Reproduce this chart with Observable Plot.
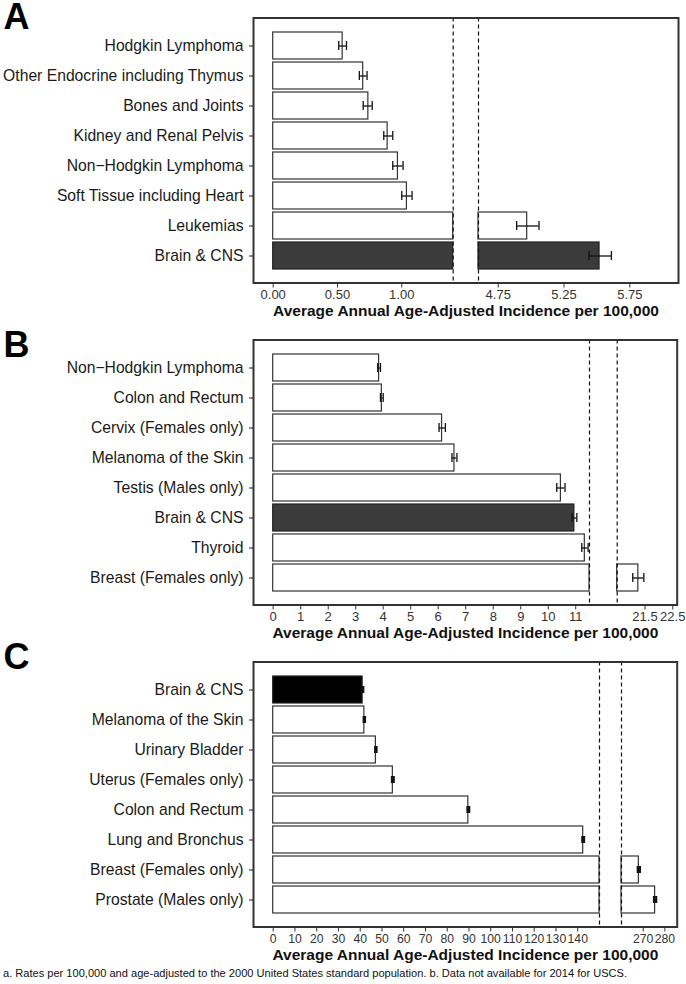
<!DOCTYPE html>
<html>
<head>
<meta charset="utf-8">
<script src="https://cdn.jsdelivr.net/npm/d3@7"></script>
<script src="https://cdn.jsdelivr.net/npm/@observablehq/plot@0.6"></script>
<style>
  html, body { margin: 0; padding: 0; background: #fff; overflow: hidden; }
  #chart svg { display: block; }
</style>
</head>
<body>
<div id="chart"></div>
<script>
// ---------- Panel A ----------
const catsA = ["Hodgkin Lymphoma", "Other Endocrine including Thymus", "Bones and Joints", "Kidney and Renal Pelvis", "Non\u2212Hodgkin Lymphoma", "Soft Tissue including Heart", "Leukemias", "Brain & CNS"];
const valuesA = [0.54, 0.70, 0.74, 0.89, 0.97, 1.04, 4.97, 5.52];
const lowA    = [0.51, 0.67, 0.70, 0.86, 0.93, 1.00, 4.89, 5.44];
const highA   = [0.57, 0.73, 0.77, 0.93, 1.01, 1.08, 5.06, 5.61];
const ticksA  = [0, 0.5, 1.0, 4.75, 5.25, 5.75];
const breakA  = [1.4, 4.6];
const maxA    = 6.12;

// ---------- Panel B ----------
const catsB = ["Non\u2212Hodgkin Lymphoma", "Colon and Rectum", "Cervix (Females only)", "Melanoma of the Skin", "Testis (Males only)", "Brain & CNS", "Thyroid", "Breast (Females only)"];
const valuesB = [3.85, 3.95, 6.14, 6.59, 10.46, 10.95, 11.33, 21.26];
const lowB    = [3.80, 3.90, 6.03, 6.50, 10.31, 10.87, 11.22, 21.06];
const highB   = [3.90, 4.00, 6.26, 6.68, 10.61, 11.04, 11.45, 21.46];
const ticksB  = [0, 1, 2, 3, 4, 5, 6, 7, 8, 9, 10, 11, 21.5, 22.5];
const breakB  = [11.5, 20.5];
const maxB    = 22.66;

// ---------- Panel C ----------
const catsC = ["Brain & CNS", "Melanoma of the Skin", "Urinary Bladder", "Uterus (Females only)", "Colon and Rectum", "Lung and Bronchus", "Breast (Females only)", "Prostate (Males only)"];
const valuesC = [41.1, 41.9, 47.2, 55.0, 89.7, 142.5, 268.0, 275.5];
const lowC    = [40.8, 41.6, 46.9, 54.6, 89.3, 142.1, 267.5, 275.0];
const highC   = [41.4, 42.2, 47.5, 55.4, 90.1, 142.9, 268.5, 276.0];
const ticksC  = [0, 10, 20, 30, 40, 50, 60, 70, 80, 90, 100, 110, 120, 130, 140, 270, 280];
const breakC  = [150, 260];
const maxC    = 285.7;

const axisTitle = "Average Annual Age-Adjusted Incidence per 100,000";
const footnote = "a. Rates per 100,000 and age-adjusted to the 2000 United States standard population. b. Data not available for 2014 for USCS.";
const highlightCat = "Brain & CNS";

const FONT = '"Liberation Sans", Arial, Helvetica, sans-serif';

function panel(o) {
  const data = o.cats.map((c, i) => ({c, v: o.vals[i], lo: o.low[i], hi: o.high[i]}));
  const segs = [];
  for (const d of data) {
    if (d.v > o.brk[1]) {
      segs.push({c: d.c, x1: 0, x2: o.brk[0]});
      segs.push({c: d.c, x1: o.brk[1], x2: d.v});
    } else {
      segs.push({c: d.c, x1: 0, x2: d.v});
    }
  }
  const isHl = d => d.c === highlightCat;
  return Plot.plot({
    width: 686,
    height: 322,
    marginTop: 17.5,
    marginBottom: 39.5,
    marginLeft: 253,
    marginRight: o.mr,
    style: {fontFamily: FONT, background: "#fff", overflow: "visible"},
    x: {type: "linear", domain: [0, o.brk[0], o.brk[1], o.max], range: o.xr},
    y: {type: "band", domain: o.cats, range: [30, 270.3], paddingInner: 0.1, paddingOuter: 0.05, align: 0.5},
    marks: [
      Plot.barX(segs.filter(d => !isHl(d)), {x1: "x1", x2: "x2", y: "c", fill: "#fff", stroke: "#333", strokeWidth: 1.2}),
      Plot.barX(segs.filter(isHl), {x1: "x1", x2: "x2", y: "c", fill: o.hl, stroke: "#222", strokeWidth: 1.2}),
      Plot.ruleX(o.brk, {stroke: "#111", strokeDasharray: "4,3", strokeWidth: 1.2}),
      Plot.ruleY(data, {y: "c", x1: "lo", x2: "hi", stroke: "#111", strokeWidth: 1.3}),
      Plot.tickX(data, {y: "c", x: "lo", insetTop: o.capInset, insetBottom: o.capInset, stroke: "#111", strokeWidth: o.capW}),
      Plot.tickX(data, {y: "c", x: "hi", insetTop: o.capInset, insetBottom: o.capInset, stroke: "#111", strokeWidth: o.capW}),
      Plot.frame({stroke: "#333", strokeWidth: 2}),
      Plot.axisY({tickSize: 4, tickPadding: 6, fontSize: 15.7, label: null, color: "#1a1a1a"}),
      Plot.axisX({ticks: o.ticks, tickFormat: o.fmt, tickSize: 5, tickPadding: 2, fontSize: o.tickFont, label: null, color: "#333"}),
      Plot.text([axisTitle], {text: d => d, frameAnchor: "bottom", lineAnchor: "middle", dy: 28.5, fontSize: 15.5, fontWeight: "bold", fill: "#111"}),
      Plot.text([o.letter], {text: d => d, frameAnchor: "top-left", dx: -250, dy: o.letterDy, fontSize: 36, fontWeight: "bold", textAnchor: "start", lineAnchor: "bottom", fill: "#000"})
    ]
  });
}

const chart = document.getElementById("chart");
chart.append(panel({
  letter: "A", letterDy: 11, cats: catsA, vals: valuesA, low: lowA, high: highA, ticks: ticksA,
  brk: breakA, max: maxA, xr: [272.7, 452.7, 478, 678], mr: 8, hl: "#3b3b3b",
  fmt: d3.format(".2f"), capInset: 9, capW: 1.3, tickFont: 13
}));
chart.append(panel({
  letter: "B", letterDy: 16.5, cats: catsB, vals: valuesB, low: lowB, high: highB, ticks: ticksB,
  brk: breakB, max: maxB, xr: [272.7, 589, 616.7, 676.7], mr: 9.3, hl: "#3b3b3b",
  fmt: d => String(d), capInset: 9, capW: 1.3, tickFont: 13
}));
chart.append(panel({
  letter: "C", letterDy: 7, cats: catsC, vals: valuesC, low: lowC, high: highC, ticks: ticksC,
  brk: breakC, max: maxC, xr: [272.7, 599, 621, 676.7], mr: 9.3, hl: "#000",
  fmt: d => String(d), capInset: 10, capW: 2.2, tickFont: 12.2
}));

// footnote
const fn = d3.create("svg").attr("width", 686).attr("height", 18).style("display", "block");
fn.append("text")
  .attr("x", 3).attr("y", 11)
  .attr("font-family", FONT).attr("font-size", 11).attr("fill", "#111")
  .attr("textLength", 624).attr("lengthAdjust", "spacingAndGlyphs")
  .text(footnote);
chart.append(fn.node());
</script>
</body>
</html>
